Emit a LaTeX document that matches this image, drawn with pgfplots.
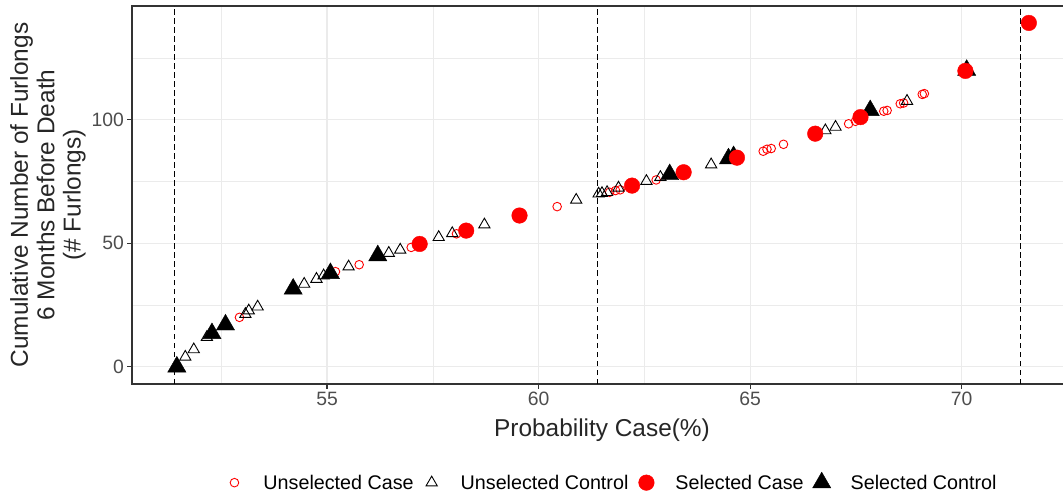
\documentclass[border=0pt]{standalone}
\usepackage{pgfplots}
\pgfplotsset{compat=1.18}
\usepackage{fontspec}
\setmainfont{Liberation Sans}
\definecolor{gridc}{HTML}{EBEBEB}
\definecolor{bordc}{HTML}{333333}
\definecolor{tickc}{HTML}{4D4D4D}
\definecolor{ggred}{HTML}{FF0000}
\begin{document}
\begin{tikzpicture}
\useasboundingbox (-132bp,-111bp) rectangle (931bp,384bp);
\begin{axis}[
  scale only axis, width=940bp, height=378bp,
  xmin=50.39, xmax=72.61, ymin=-6.95, ymax=145.95,
  xtick={55,60,65,70}, ytick={0,50,100},
  minor xtick={52.5,57.5,62.5,67.5,72.5}, minor ytick={25,75,125},
  grid=both,
  major grid style={gridc, line width=1.1bp},
  minor grid style={gridc, line width=0.55bp},
  tick align=outside, tick pos=left,
  major tick length=4.5bp, minor tick length=0pt,
  every tick/.style={bordc, line width=1.1bp},
  axis line style={bordc, line width=1.1bp},
  /pgf/number format/assume math mode=true,
  tick label style={font=\fontsize{19.4}{22}\selectfont, text=tickc},
  xlabel={Probability Case(\%)},
  ylabel={Cumulative Number of Furlongs\\6 Months Before Death\\(\# Furlongs)},
  label style={font=\fontsize{24.5}{26.5}\selectfont, text=black!85},
  xlabel style={at={(axis description cs:0.5,-0.1376)}, anchor=base},
  ylabel style={at={(axis description cs:-0.0894,0.5)}, anchor=center, align=center},
  legend image code/.code={\path[draw=none, fill=none] (-12bp,-9bp) rectangle (12bp,9bp); \draw[#1] plot coordinates {(0bp,0bp)};},
  legend style={at={(axis description cs:0.508,-0.259)}, anchor=center, draw=none, fill=none,
    font=\fontsize{19.8}{22}\selectfont, nodes={inner sep=0pt},
    /tikz/every even column/.append style={column sep=6bp},
    /tikz/every odd column/.append style={column sep=17bp}},
  legend columns=4, legend cell align=left,
]
% reference lines
\addplot[forget plot, black, line width=1bp, dash pattern=on 5.5bp off 3.5bp] coordinates {(51.4,-6.95) (51.4,145.95)};
\addplot[forget plot, black, line width=1bp, dash pattern=on 5.5bp off 3.5bp] coordinates {(61.4,-6.95) (61.4,145.95)};
\addplot[forget plot, black, line width=1bp, dash pattern=on 5.5bp off 3.5bp] coordinates {(71.4,-6.95) (71.4,145.95)};
% Unselected Case
\addplot[forget plot, only marks, mark=o, mark size=4.3bp, ggred, line width=0.9bp] coordinates {
(52.93,20) (55.20,38.5) (55.76,41.3) (56.99,48.3) (58.06,53.8) (60.44,64.8)
(61.68,70.6) (61.82,71.3) (61.93,71.6) (62.78,75.6) (65.31,87.2) (65.40,88.0)
(65.50,88.3) (65.79,90.0) (67.33,98.3) (67.49,99.3) (68.16,103.4) (68.24,103.7)
(68.55,106.4) (68.63,106.7) (69.07,110.2) (69.12,110.5)
};
% Unselected Control
\addplot[forget plot, only marks, mark=triangle, mark size=6.5bp, black, line width=0.9bp] coordinates {
(51.65,4) (51.85,7) (52.16,12) (53.07,21.3) (53.15,22.7) (53.36,24.3)
(54.46,33.5) (54.75,35.5) (54.92,36.9) (55.51,40.5) (56.46,46) (56.73,47.3)
(57.64,52.4) (57.96,54) (58.72,57.5) (60.89,67.5) (61.42,70) (61.50,70.2)
(61.62,70.6) (61.89,72.4) (62.55,75.1) (62.88,76.7) (64.08,81.8) (66.78,95.6)
(67.02,97.0) (68.71,107.5)
};
% Selected Control
\addplot[forget plot, only marks, mark=triangle*, mark size=10.5bp, black] coordinates {
(51.45,0) (52.28,13.5) (52.60,17) (54.20,31.5) (55.08,37.8) (56.20,45)
(63.10,77.8) (64.49,84.2) (64.61,85.1) (67.84,103.7) (70.12,120)
};
% Selected Case
\addplot[forget plot, only marks, mark=*, mark size=7.8bp, ggred, fill=ggred] coordinates {
(57.19,49.7) (58.29,55.1) (59.55,61.2) (62.21,73.3) (63.43,78.7) (64.69,84.6)
(66.54,94.3) (67.61,101) (70.09,119.7) (71.59,139.1)
};
\addlegendimage{only marks, mark=o, mark size=4.3bp, ggred, line width=0.9bp}
\addlegendentry{Unselected Case}
\addlegendimage{only marks, mark=triangle, mark size=6.5bp, black, line width=0.9bp}
\addlegendentry{Unselected Control}
\addlegendimage{only marks, mark=*, mark size=7.8bp, ggred, fill=ggred}
\addlegendentry{Selected Case}
\addlegendimage{only marks, mark=triangle*, mark size=10.5bp, black}
\addlegendentry{Selected Control}
\end{axis}
\end{tikzpicture}
\end{document}
